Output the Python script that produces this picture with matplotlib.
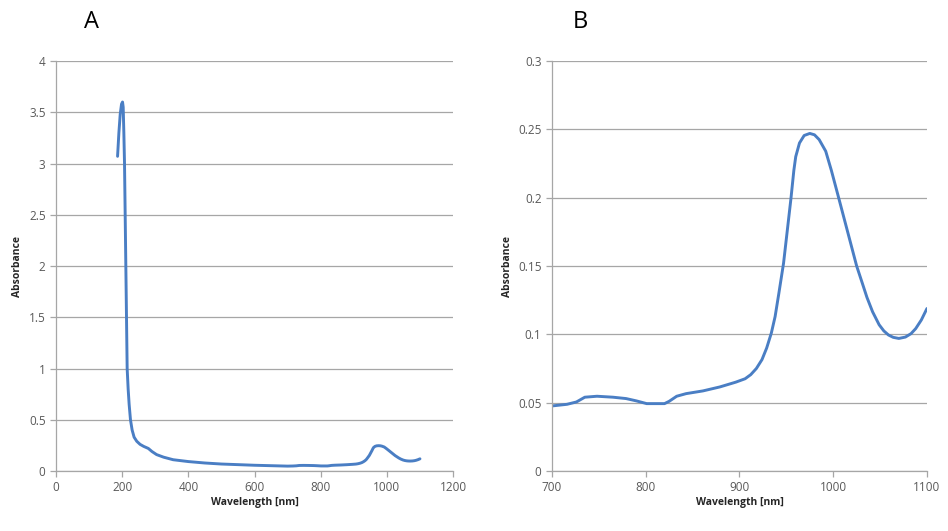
import numpy as np
import matplotlib
matplotlib.use("Agg")
import matplotlib.pyplot as plt

# ------------------------------------------------------------------
# spectrum (wavelength nm, absorbance)
# ------------------------------------------------------------------
wavelength = [186, 190, 194, 198, 201, 203, 205, 207, 209, 211, 213, 215, 218,
              221, 225, 230, 236, 244, 254, 265, 279, 290, 304, 325, 354, 400,
              450, 500, 600, 700, 716, 726, 735, 748, 765, 779, 790, 801, 820,
              825, 833, 843, 861, 879, 896, 906, 912, 918, 924, 929, 934, 938,
              942, 947, 951, 955, 958, 960, 964, 969, 975, 980, 985, 992, 998,
              1005, 1015, 1025, 1031, 1036, 1042, 1049, 1054, 1059, 1064, 1070,
              1077, 1083, 1088, 1094, 1100]
absorbance = [3.07, 3.30, 3.48, 3.58, 3.60, 3.55, 3.30, 3.00, 2.50, 2.00, 1.50,
              1.00, 0.80, 0.65, 0.50, 0.40, 0.33, 0.29, 0.26, 0.24, 0.22, 0.19,
              0.16, 0.135, 0.11, 0.092, 0.078, 0.068, 0.056, 0.0476, 0.0488,
              0.0505, 0.054, 0.0547, 0.054, 0.053, 0.0513, 0.0493, 0.0493,
              0.051, 0.0547, 0.0566, 0.0586, 0.0615, 0.065, 0.0675, 0.0705,
              0.0750, 0.0815, 0.0900, 0.1010, 0.1130, 0.1300, 0.1520, 0.1760,
              0.2000, 0.2200, 0.2300, 0.2400, 0.2455, 0.2470, 0.2460, 0.2425,
              0.2340, 0.2200, 0.2020, 0.1760, 0.1500, 0.1375, 0.1270, 0.1165,
              0.1070, 0.1025, 0.0995, 0.0978, 0.0970, 0.0980, 0.1005, 0.1042,
              0.1105, 0.1189]

panel_labels = ["A", "B"]
xlabel = "Wavelength [nm]"
ylabel = "Absorbance"

LINE = "#4A7EC4"
GRID = "#A6A6A6"
TICK = "#595959"

plt.rcParams["font.family"] = ["Open Sans", "DejaVu Sans"]

wl = np.array(wavelength, dtype=float)
ab = np.array(absorbance, dtype=float)


def style_axes(ax, xlim, xticks, ylim, yticks):
    ax.set_xlim(*xlim)
    ax.set_ylim(*ylim)
    ax.set_xticks(xticks)
    ax.set_yticks(yticks)
    ax.set_xticklabels([f"{t:g}" for t in xticks])
    ax.set_yticklabels([f"{t:g}" for t in yticks])
    for s in ["top", "right"]:
        ax.spines[s].set_visible(False)
    for s in ["left", "bottom"]:
        ax.spines[s].set_color(GRID)
        ax.spines[s].set_linewidth(0.9)
    ax.yaxis.grid(True, color=GRID, linewidth=0.9)
    ax.set_axisbelow(True)
    ax.tick_params(axis="both", colors=GRID, labelcolor=TICK, labelsize=8.5,
                   length=4, width=0.9, direction="out")
    ax.set_xlabel(xlabel, fontsize=7.5, fontweight="bold", color="#262626", labelpad=2)
    ax.set_ylabel(ylabel, fontsize=7.5, fontweight="bold", color="#262626", labelpad=4)


fig = plt.figure(figsize=(9.48, 5.31), dpi=100)
axA = fig.add_axes([0.0591, 0.1130, 0.4188, 0.7721])
axB = fig.add_axes([0.5823, 0.1130, 0.3955, 0.7721])

axA.plot(wl, ab, color=LINE, linewidth=2.1, solid_capstyle="round",
         solid_joinstyle="round")
style_axes(axA, (0, 1200), [0, 200, 400, 600, 800, 1000, 1200],
           (0, 4), [0, 0.5, 1, 1.5, 2, 2.5, 3, 3.5, 4])

m = wl >= 700
axB.plot(wl[m], ab[m], color=LINE, linewidth=2.1, solid_capstyle="round",
         solid_joinstyle="round")
style_axes(axB, (700, 1100), [700, 800, 900, 1000, 1100],
           (0, 0.3), [0, 0.05, 0.1, 0.15, 0.2, 0.25, 0.3])

fig.text(92 / 948, 1 - 22 / 531, panel_labels[0], fontsize=17, ha="center", va="center")
fig.text(580 / 948, 1 - 22 / 531, panel_labels[1], fontsize=17, ha="center", va="center")

fig.savefig("out.png", dpi=100, facecolor="white")
